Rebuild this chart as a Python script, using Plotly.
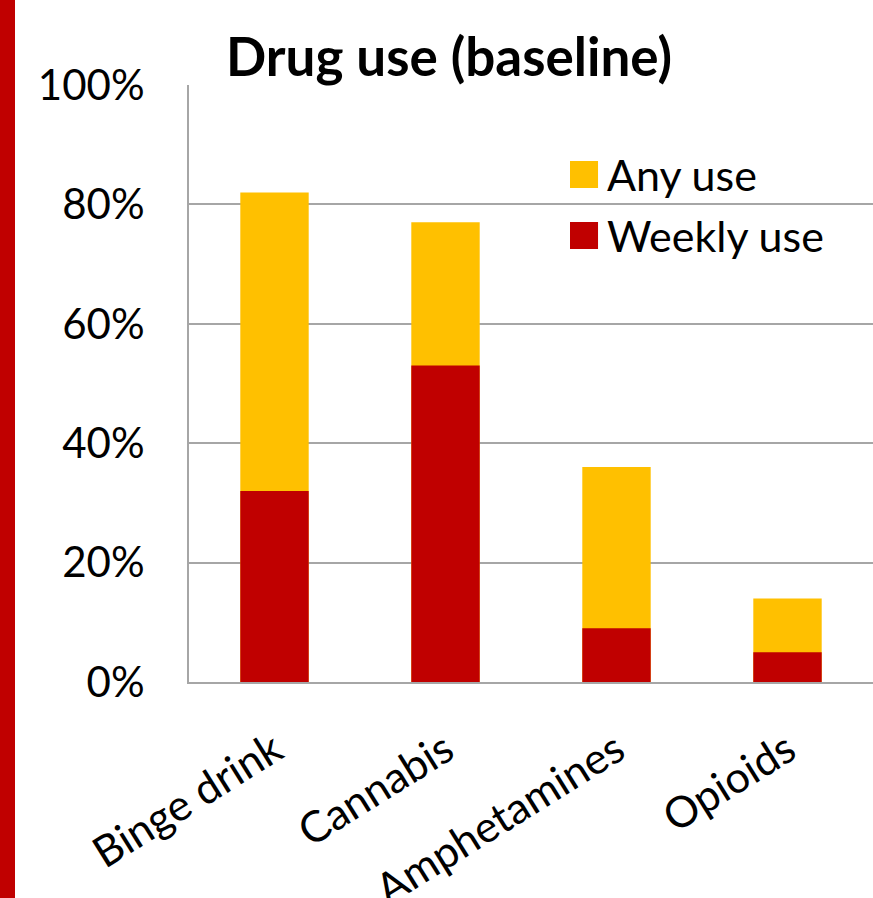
import plotly.graph_objects as go

# Survey results: share of participants reporting use at baseline
categories = ["Binge drink", "Cannabis", "Amphetamines", "Opioids"]
any_use = [82, 77, 36, 14]
weekly_use = [32, 53, 9, 5]
series_names = ["Any use", "Weekly use"]
series_colors = ["#FFC000", "#C00000"]
y_ticks = [0, 20, 40, 60, 80, 100]
y_tick_labels = ["0%", "20%", "40%", "60%", "80%", "100%"]

FONT = "Lato, 'Open Sans', sans-serif"
GRID = "#a6a6a6"

fig = go.Figure()
# "Any use" is the total height; weekly use is drawn over it from zero
for name, values, color in zip(series_names, [any_use, weekly_use], series_colors):
    fig.add_trace(go.Bar(
        x=categories, y=values, name=name,
        marker=dict(color=color, line=dict(width=0)),
        showlegend=False,
    ))

fig.update_layout(
    width=873, height=898,
    margin=dict(l=189, r=0, t=85, b=216, autoexpand=False),
    paper_bgcolor="white", plot_bgcolor="white",
    barmode="overlay", bargap=0.6,
    font=dict(family=FONT, color="black"),
    title=dict(
        text="<b>Drug use (baseline)</b>",
        x=449 / 873, xref="container", xanchor="center",
        y=1 - 57 / 898, yref="container", yanchor="middle",
        font=dict(size=53, family=FONT, color="black"),
    ),
    xaxis=dict(
        tickangle=-32, tickfont=dict(size=43), ticks="",
        ticklabelstandoff=24, automargin=False,
        showline=True, linecolor=GRID, linewidth=2,
        showgrid=False, fixedrange=True,
    ),
    yaxis=dict(
        range=[0, 100], tickvals=y_ticks, ticktext=y_tick_labels,
        tickfont=dict(size=42), ticks="", ticklabelstandoff=34,
        automargin=False,
        showgrid=True, gridcolor=GRID, gridwidth=1.5,
        showline=True, linecolor=GRID, linewidth=2,
        zeroline=False,
    ),
)

# Red accent strip along the left edge of the page
fig.add_shape(type="rect", xref="paper", yref="paper",
              x0=-189 / 684, x1=(15 - 189) / 684, y0=-216 / 597, y1=1 + 85 / 597,
              fillcolor="#C00000", line=dict(width=0), layer="below")

# Legend swatches and labels inside the plot area
legend_rows = [(0.8275, 0.8727), (0.7253, 0.7705)]
for name, color, (y0, y1) in zip(series_names, series_colors, legend_rows):
    fig.add_shape(type="rect", xref="paper", yref="paper",
                  x0=0.557, x1=0.598, y0=y0, y1=y1,
                  fillcolor=color, line=dict(width=0))
    fig.add_annotation(xref="paper", yref="paper", x=0.608, y=(y0 + y1) / 2,
                       xanchor="left", yanchor="middle", showarrow=False,
                       text=name, font=dict(size=43, family=FONT, color="black"))

fig.write_html("out.html")
